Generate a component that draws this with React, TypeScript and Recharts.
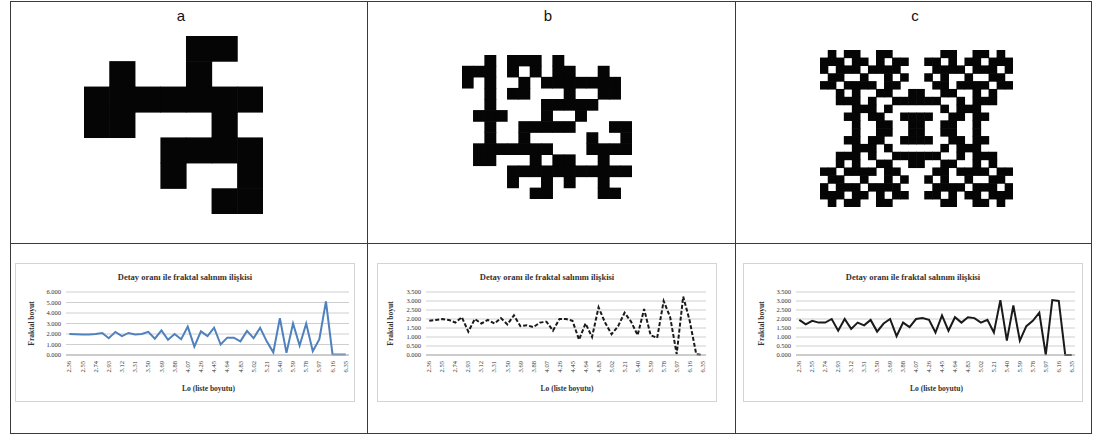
import {LineChart, Line, XAxis, YAxis, CartesianGrid, ScatterChart, Scatter} from 'recharts';

// Lo (edge size) categories shared by all three charts
const CATEGORIES = [
    '2.36', '2.45', '2.55', '2.64', '2.74', '2.83', '2.93', '3.02', '3.12', '3.21', '3.31',
    '3.40', '3.50', '3.59', '3.69', '3.78', '3.88', '3.97', '4.07', '4.16', '4.26', '4.35',
    '4.45', '4.54', '4.64', '4.73', '4.83', '4.92', '5.02', '5.11', '5.21', '5.30', '5.40',
    '5.49', '5.59', '5.68', '5.78', '5.87', '5.97', '6.06', '6.16', '6.25', '6.35',
];

const SERIES_A = [
    2.0, 1.98, 1.95, 1.95, 2.0, 2.1, 1.6, 2.2, 1.8, 2.1, 1.95, 2.0, 2.2, 1.55, 2.35, 1.45, 2.0,
    1.5, 2.7, 0.8, 2.25, 1.8, 2.6, 1.0, 1.65, 1.65, 1.3, 2.3, 1.6, 2.6, 1.3, 0.25, 3.5, 0.2,
    3.0, 0.9, 3.0, 0.35, 1.5, 5.1, 0.05, 0.05, 0.05,
];

const SERIES_B = [
    1.9, 1.95, 2.0, 1.95, 1.8, 2.1, 1.3, 2.0, 1.75, 1.95, 1.75, 2.05, 1.7, 2.2, 1.6, 1.65, 1.55,
    1.8, 1.85, 1.35, 2.0, 2.0, 1.9, 0.85, 1.75, 1.0, 2.65, 1.8, 1.15, 1.6, 2.35, 1.85, 1.1, 2.55,
    1.1, 0.95, 3.0, 2.1, 0.05, 3.25, 1.9, 0.05, 0.0,
];

const SERIES_C = [
    1.95, 1.7, 1.9, 1.8, 1.8, 2.0, 1.35, 2.0, 1.45, 1.8, 1.65, 1.95, 1.3, 1.75, 2.0, 1.05, 1.8,
    1.55, 2.0, 2.05, 1.95, 1.25, 2.2, 1.35, 2.1, 1.8, 2.1, 2.05, 1.8, 1.95, 1.25, 3.05, 0.8, 2.75,
    0.8, 1.6, 1.9, 2.35, 0.0, 3.05, 3.0, 0.0, 0.0,
];

const Y_TICKS_A = [0, 1, 2, 3, 4, 5, 6];
const Y_TICKS_BC = [0, 0.5, 1, 1.5, 2, 2.5, 3, 3.5];

// fractal shapes, X = black cell
const PATTERN_A = [
    '....XX.',
    '.X..X..',
    'XXXXXXX',
    'XX...X.',
    '...XXXX',
    '...X..X',
    '.....XX',
];

const PATTERN_B = [
    '..X.XXX.X......',
    'XXX.X.X.XX..X..',
    'X.X..X.XXXXXXX.',
    '..X.XX...X..XX.',
    '..X....XXXXX...',
    '.XXX...X..X....',
    '..X..XXXXX...XX',
    '..X..X.....X..X',
    '.XXXXXXX...XXXX',
    '.XX...X.XX..X..',
    '....XXXXXXXXXXX',
    '....X..X.X..X..',
    '......XX....XX.',
];

const PATTERN_C = [
    '.X.XX..XX......XX..XX.X.',
    'XXX.XX.X.XX..XX.X.XX.XXX',
    'X.XXX.XXXX....XXXX.XXX.X',
    '.XX..X..X.X..X.X..X..XX.',
    'XX.XXXX.XX....XX.XXXX.XX',
    '..X.X..XX..XX..XX..X.X..',
    '..XXX.X..XXXXXX..X.XXX..',
    '....XXX.X......X.XXX....',
    '...XX.XX..XXXX..XX.XX...',
    '....X..XX..XX..XX..X....',
    '....X..XX..XX..XX..X....',
    '...XX.XX..XXXX..XX.XX...',
    '....XXX.X......X.XXX....',
    '..XXX.X..XXXXXX..X.XXX..',
    '..X.X..XX..XX..XX..X.X..',
    'XX.XXXX.XX....XX.XXXX.XX',
    '.XX..X..X.X..X.X..X..XX.',
    'X.XXX.XXXX....XXXX.XXX.X',
    'XXX.XX.X.XX..XX.X.XX.XXX',
    '.X.XX..XX......XX..XX.X.',
];

const chartData = CATEGORIES.map((lo, i) => ({lo, a: SERIES_A[i], b: SERIES_B[i], c: SERIES_C[i]}));

const toCells = (rows: string[]) => {
    const cells: {x: number; y: number}[] = [];
    rows.forEach((row, r) => {
        row.split('').forEach((ch, c) => {
            if (ch === 'X') cells.push({x: c + 0.5, y: r + 0.5});
        });
    });
    return cells;
};

const serif = '"Liberation Serif", "Times New Roman", serif';
const sans = '"Liberation Sans", Arial, sans-serif';

function Fractal({rows, left, top, width, height}: {rows: string[]; left: number; top: number; width: number; height: number}) {
    const cols = rows[0].length;
    const cw = width / cols;
    const ch = height / rows.length;
    return (
        <div style={{position: 'absolute', left, top}}>
            <ScatterChart width={width} height={height} margin={{top: 0, right: 0, bottom: 0, left: 0}}>
                <XAxis type="number" dataKey="x" domain={[0, cols]} hide/>
                <YAxis type="number" dataKey="y" domain={[0, rows.length]} reversed hide/>
                <Scatter
                    data={toCells(rows)}
                    isAnimationActive={false}
                    shape={(p: any) => (
                        <rect x={p.cx - cw / 2 - 0.3} y={p.cy - ch / 2 - 0.3} width={cw + 0.6} height={ch + 0.6} fill="#050505"/>
                    )}
                />
            </ScatterChart>
        </div>
    );
}

type ChartProps = {
    left: number;
    dataKey: string;
    yMax: number;
    yTicks: number[];
    stroke: string;
    dash?: string;
    plotLeft: number;
    plotRight: number;
    yLabelX: number;
};

function DetailChart({left, dataKey, yMax, yTicks, stroke, dash, plotLeft, plotRight, yLabelX}: ChartProps) {
    const width = 340;
    const height = 139;
    const plotTop = 28;
    const plotBottom = 46;
    const band = (width - plotLeft - plotRight) / CATEGORIES.length;
    const plotCenter = plotLeft + (width - plotLeft - plotRight) / 2;
    return (
        <div style={{position: 'absolute', left, top: 263, width, height, border: '1px solid #d4d4d4', boxSizing: 'border-box', background: '#fff'}}>
            <LineChart width={width - 2} height={height - 2} data={chartData}
                       margin={{top: plotTop, right: plotRight, bottom: plotBottom - 20, left: plotLeft - 30}}>
                <CartesianGrid vertical={false} stroke="#cfcfcf"/>
                <XAxis dataKey="lo" interval={1} angle={-90} textAnchor="end" tickLine={false}
                       axisLine={{stroke: '#b0b0b0'}} tickSize={4} tickMargin={2} height={20}
                       padding={{left: band / 2, right: band / 2}}
                       tick={{fontSize: 6.5, fontFamily: serif, fill: '#333', dx: -2.5}}/>
                <YAxis domain={[0, yMax]} ticks={yTicks} interval={0} tickFormatter={(v: number) => v.toFixed(3)} width={30}
                       tickLine={false} axisLine={false} tickSize={3} tickMargin={2}
                       tick={{fontSize: 6.5, fontFamily: serif, fill: '#333'}}/>
                <Line type="linear" dataKey={dataKey} stroke={stroke} strokeWidth={2} strokeDasharray={dash}
                      dot={false} isAnimationActive={false}/>
            </LineChart>
            <div style={{position: 'absolute', left: 0, width: '100%', top: 8, textAlign: 'center', fontFamily: serif, fontWeight: 'bold', fontSize: 8.5, color: '#333'}}>
                Detay oranı ile fraktal salınım ilişkisi
            </div>
            <div style={{position: 'absolute', left: yLabelX - 40, top: 55, width: 80, textAlign: 'center', transform: 'rotate(-90deg)', fontFamily: serif, fontWeight: 'bold', fontSize: 7.5, color: '#333'}}>
                Fraktal boyut
            </div>
            <div style={{position: 'absolute', left: plotCenter - 60, width: 120, top: 120, textAlign: 'center', fontFamily: serif, fontWeight: 'bold', fontSize: 7.5, color: '#333'}}>
                Lo (liste boyutu)
            </div>
        </div>
    );
}

const line = '#3a3a3a';

export default function App() {
    return (
        <div style={{position: 'absolute', left: 0, top: 0, width: 1098, height: 436, background: '#fff', overflow: 'hidden'}}>
            {/* table frame */}
            <div style={{position: 'absolute', left: 10, top: 1, width: 1082, height: 433, border: `1px solid ${line}`, boxSizing: 'border-box'}}/>
            <div style={{position: 'absolute', left: 367, top: 1, width: 1, height: 433, background: line}}/>
            <div style={{position: 'absolute', left: 735, top: 1, width: 1, height: 433, background: line}}/>
            <div style={{position: 'absolute', left: 10, top: 243, width: 1082, height: 1, background: line}}/>

            {['a', 'b', 'c'].map((t, i) => (
                <div key={t} style={{position: 'absolute', left: [181, 548, 915][i] - 20, width: 40, top: 7, textAlign: 'center', fontFamily: sans, fontSize: 15, color: '#111'}}>
                    {t}
                </div>
            ))}

            <Fractal rows={PATTERN_A} left={84} top={36} width={179} height={178}/>
            <Fractal rows={PATTERN_B} left={462} top={55} width={170} height={144}/>
            <Fractal rows={PATTERN_C} left={820} top={50} width={193} height={157}/>

            <DetailChart left={15} dataKey="a" yMax={6} yTicks={Y_TICKS_A} stroke="#4f81bd"
                         plotLeft={50} plotRight={5} yLabelX={15}/>
            <DetailChart left={377} dataKey="b" yMax={3.5} yTicks={Y_TICKS_BC} stroke="#1a1a1a" dash="4 2"
                         plotLeft={48} plotRight={10} yLabelX={12}/>
            <DetailChart left={743} dataKey="c" yMax={3.5} yTicks={Y_TICKS_BC} stroke="#1a1a1a"
                         plotLeft={52} plotRight={7} yLabelX={17}/>
        </div>
    );
}
